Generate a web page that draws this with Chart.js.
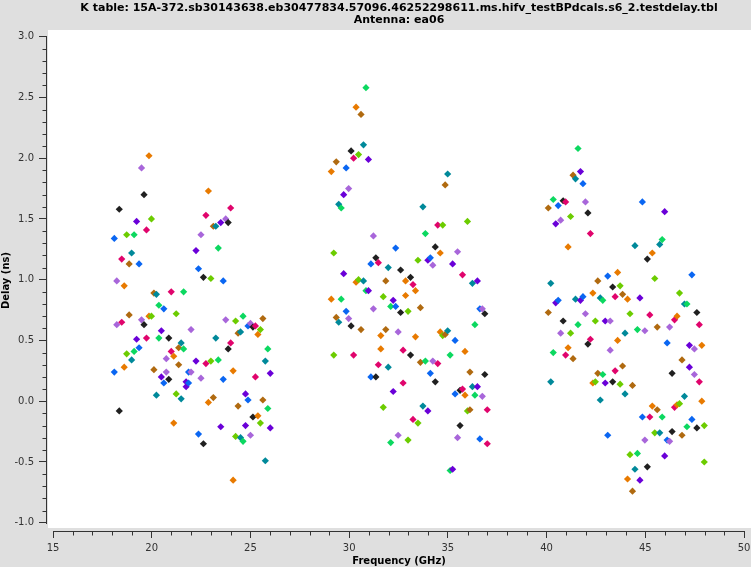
<!DOCTYPE html>
<html>
<head>
<meta charset="utf-8">
<script src="https://cdn.jsdelivr.net/npm/chart.js@4.4.0/dist/chart.umd.min.js"></script>
<style>
  html, body { margin: 0; padding: 0; background: #dfdfdf; }
  canvas { display: block; }
</style>
</head>
<body>
<canvas id="chart" width="751" height="567"></canvas>
<script>
// ---------------- text ----------------
const titleLines = [
  'K table: 15A-372.sb30143638.eb30477834.57096.46252298611.ms.hifv_testBPdcals.s6_2.testdelay.tbl',
  'Antenna: ea06'
];
const xAxisTitle = 'Frequency (GHz)';
const yAxisTitle = 'Delay (ns)';
const xTickValues = [15, 20, 25, 30, 35, 40, 45, 50];
const yTickValues = [-1.0, -0.5, 0.0, 0.5, 1.0, 1.5, 2.0, 2.5, 3.0];

// colour per spectral window (spw % 10)
const spwPalette = ['#0a66f2', '#a866da', '#202020', '#e0046c', '#e87a00',
                    '#6ccc00', '#b06a10', '#00899a', '#0cd860', '#6a00d8'];

// ---------------- K band ----------------
const kFreq = [18.105, 18.230, 18.356, 18.481, 18.607, 18.732, 18.857, 18.983, 19.108, 19.234,
  19.359, 19.484, 19.610, 19.735, 19.861, 19.986, 20.111, 20.237, 20.362, 20.488,
  20.613, 20.738, 20.864, 20.989, 21.115, 21.240, 21.365, 21.491, 21.616, 21.742,
  21.867, 21.992,
  22.243, 22.369, 22.494, 22.619, 22.745, 22.870, 22.996, 23.121, 23.246, 23.372,
  23.497, 23.623, 23.748, 23.873, 23.999, 24.124, 24.250, 24.375, 24.500, 24.626,
  24.751, 24.877, 25.002, 25.127, 25.253, 25.378, 25.504, 25.629, 25.754, 25.880, 26.005];
const kSpw = [0, 1, 2, 3, 4, 5, 6, 7, 8, 9, 10, 11, 12, 13, 14, 15, 16, 17, 18, 19,
  20, 21, 22, 23, 24, 25, 26, 27, 28, 29, 30, 31,
  39, 40, 41, 42, 43, 44, 45, 46, 47, 48, 49, 50, 51, 52, 53, 54, 55, 56, 57, 58,
  59, 60, 61, 62, 63, 64, 65, 66, 67, 68, 69];
const kDelayPol1 = [1.34, 0.99, 1.58, 1.17, 0.95, 1.37, 1.13, 1.22, 1.37, 1.48,
  1.13, 1.92, 1.70, 1.41, 2.02, 1.50, 0.89, 0.88, 0.79, 0.58,
  0.76, 0.35, 0.52, 0.90, 0.37, 0.72, 0.44, 0.48, 0.90, 0.16,
  0.24, 0.59,
  1.24, 1.09, 1.37, 1.02, 1.53, 1.73, 1.01, 1.44, 1.44, 1.26,
  1.47, 0.99, 1.50, 1.47, 1.59, 0.25, 0.66, 0.56, 0.57, 0.70,
  0.06, 0.62, 0.64, 0.61, 0.62, 0.55, 0.59, 0.68, 0.33, 0.43, 0.23];
const kDelayPol2 = [0.24, 0.63, -0.08, 0.65, 0.28, 0.39, 0.71, 0.34, 0.41, 0.51,
  0.44, 0.67, 0.63, 0.52, 0.70, 0.70, 0.26, 0.05, 0.52, 0.20,
  0.15, 0.24, 0.18, 0.41, -0.18, 0.06, 0.30, 0.02, 0.43, 0.12,
  0.15, 0.24,
  0.33, -0.27, 0.19, -0.35, 0.31, -0.01, 0.33, 0.03, 0.52, 0.34,
  -0.21, 0.18, 0.67, 0.43, 0.48, -0.65, -0.29, -0.04, -0.30, -0.33,
  -0.20, 0.01, -0.28, -0.13, 0.20, -0.12, -0.18, 0.01, -0.49, -0.06, -0.22];

// ---------------- Ka band ----------------
const kaFreq = [29.096, 29.221, 29.347, 29.472, 29.598, 29.723, 29.848, 29.974, 30.099, 30.225,
  30.350, 30.475, 30.601, 30.726, 30.852, 30.977, 31.102, 31.228, 31.353, 31.479,
  31.604, 31.729, 31.855, 31.980, 32.106, 32.231, 32.356, 32.482, 32.607, 32.733,
  32.858, 32.983, 33.109, 33.234, 33.360, 33.485, 33.610, 33.736, 33.861, 33.987,
  34.112, 34.237, 34.363, 34.488, 34.614, 34.739, 34.864, 34.990, 35.115, 35.241,
  35.366, 35.491, 35.617, 35.742, 35.868, 35.993, 36.118, 36.244, 36.369, 36.495,
  36.620, 36.745, 36.871, 36.996];
const kaSpw = [74, 75, 76, 77, 78, 79, 80, 81, 82, 83, 84, 85, 86, 87, 88, 89, 90, 91, 92, 93,
  94, 95, 96, 97, 98, 99, 100, 101, 102, 103, 104, 105,
  112, 113, 114, 115, 116, 117, 118, 119, 120, 121, 122, 123, 124, 125, 126, 127, 128, 129,
  130, 131, 132, 133, 134, 135, 136, 137, 138, 139, 140, 141, 142, 143];
const kaDelayPol1 = [1.89, 1.22, 1.97, 1.62, 1.59, 1.70, 1.92, 1.75, 2.06, 2.00,
  2.42, 2.03, 2.36, 2.11, 2.58, 1.99, 1.13, 1.36, 1.18, 1.14,
  0.54, 0.86, 0.99, 1.10, 0.78, 0.83, 1.26, 0.57, 1.08, 0.42,
  0.99, 0.74,
  1.02, 0.96, 0.91, 1.16, 0.77, 1.60, 1.38, 1.16, 1.18, 1.12,
  1.27, 1.45, 1.22, 1.45, 1.78, 1.87, 0.38, 1.13, 0.50, 1.23,
  0.09, 1.04, 0.41, 1.48, 0.24, 0.97, 0.63, 0.99, 0.76, 0.76,
  0.72, -0.07];
const kaDelayPol2 = [0.84, 0.38, 0.69, 0.65, 0.84, 1.05, 0.74, 0.68, 0.62, 0.38,
  0.98, 1.00, 0.59, 0.99, 0.91, 0.91, 0.20, 0.76, 0.20, 0.30,
  0.43, -0.05, 0.59, 0.28, -0.34, 0.08, 0.78, -0.28, 0.73, 0.15,
  0.87, -0.32,
  0.38, -0.15, 0.53, -0.18, 0.32, -0.04, 0.33, -0.08, 0.23, 0.33,
  0.16, 0.31, 0.57, 0.54, 0.55, 0.58, -0.57, -0.56, 0.06, -0.30,
  -0.20, 0.10, 0.05, -0.08, -0.07, 0.12, 0.05, 0.12, -0.31, 0.04,
  0.22, -0.35];

// ---------------- Q band ----------------
const qFreq = [40.087, 40.212, 40.338, 40.463, 40.589, 40.714, 40.839, 40.965, 41.090, 41.216,
  41.341, 41.466, 41.592, 41.717, 41.843, 41.968, 42.093, 42.219, 42.344, 42.470,
  42.595, 42.720, 42.846, 42.971, 43.097, 43.222, 43.347, 43.473, 43.598, 43.724,
  43.849, 43.974, 44.100, 44.225, 44.351, 44.476, 44.601, 44.727, 44.852, 44.978,
  45.103, 45.228, 45.354, 45.479, 45.605, 45.730, 45.855, 45.981, 46.106, 46.232,
  46.357, 46.482, 46.608, 46.733, 46.859, 46.984, 47.109, 47.235, 47.360, 47.486,
  47.611, 47.736, 47.862, 47.987];
const qSpw = [146, 147, 148, 149, 150, 151, 152, 153, 154, 155, 156, 157, 158, 159, 160, 161,
  162, 163, 164, 165, 166, 167, 168, 169, 170, 171, 172, 173, 174, 175, 176, 177,
  184, 185, 186, 187, 188, 189, 190, 191, 192, 193, 194, 195, 196, 197, 198, 199,
  200, 201, 202, 203, 204, 205, 206, 207, 208, 209, 210, 211, 212, 213, 214, 215];
const qDelayPol1 = [1.59, 0.97, 1.66, 1.46, 1.61, 1.49, 1.65, 1.64, 1.27, 1.52,
  1.86, 1.83, 2.08, 1.89, 1.79, 1.64, 1.55, 1.38, 0.89, 0.66,
  0.99, 0.85, 0.83, 0.66, 1.03, 0.66, 0.94, 0.86, 1.06, 0.95,
  0.88, 0.56,
  0.84, 0.72, 0.13, 1.28, 0.59, 0.85, 1.64, 0.58, 1.17, 0.71,
  1.22, 1.01, 0.61, 1.29, 1.33, 1.56, 0.48, 0.61, 0.23, 0.67,
  0.70, 0.89, 0.34, 0.80, 0.80, 0.46, 1.04, 0.43, 0.73, 0.63,
  0.46, -0.20];
const qDelayPol2 = [0.73, 0.16, 0.40, 0.81, 0.83, 0.56, 0.66, 0.38, 0.44, 0.56,
  0.35, 0.84, 0.63, 0.83, 0.86, 0.72, 0.47, 0.51, 0.15, 0.16,
  0.23, 0.01, 0.22, 0.15, -0.28, 0.42, 0.16, 0.25, 0.50, 0.14,
  0.29, 0.06,
  -0.64, -0.44, -0.74, -0.56, -0.43, -0.65, -0.13, -0.32, -0.54, -0.13,
  -0.04, -0.26, -0.07, -0.26, -0.13, -0.45, -0.32, -0.33, -0.25, -0.05,
  -0.03, -0.02, -0.28, 0.04, -0.21, 0.28, -0.15, 0.22, -0.22, 0.16,
  0.00, -0.50];

// ---------------- build datasets ----------------
function bandPoints(freq, spw, pol1, pol2) {
  const pts = [];
  for (let i = 0; i < freq.length; i++) {
    pts.push({ x: freq[i], y: pol1[i], spw: spw[i] });
    pts.push({ x: freq[i], y: pol2[i], spw: spw[i] });
  }
  return pts;
}
function bandDataset(label, pts) {
  return {
    label: label,
    data: pts,
    pointStyle: 'rectRot',
    pointRadius: 3.6,
    pointHoverRadius: 3.6,
    pointBorderWidth: 0,
    pointBackgroundColor: pts.map(p => spwPalette[p.spw % 10]),
    pointBorderColor: pts.map(p => spwPalette[p.spw % 10])
  };
}

const titleFont = { family: "'DejaVu Sans', sans-serif", size: 11, weight: 'bold', lineHeight: '12px' };
const axisTitleFont = { family: "'DejaVu Sans', sans-serif", size: 10, weight: 'bold', lineHeight: '12px' };
const tickFont = { family: "'DejaVu Sans', sans-serif", size: 10 };

function noScalePadding(s) {
  s.paddingLeft = 0; s.paddingRight = 0; s.paddingTop = 0; s.paddingBottom = 0;
}

const frame = {
  id: 'frame',
  beforeDraw(chart) {
    const { ctx, scales: { x, y } } = chart;
    ctx.save();
    ctx.fillStyle = '#dfdfdf';
    ctx.fillRect(0, 0, chart.width, chart.height);
    const left = Math.round(x.getPixelForValue(xTickValues[0])) - 5;
    const top = chart.chartArea.top;
    const bottom = Math.round(y.getPixelForValue(yTickValues[0])) + 5;
    ctx.fillStyle = '#ffffff';
    ctx.fillRect(left, top, chart.width - left, bottom - top);
    ctx.restore();
  },
  afterDraw(chart) {
    const { ctx, scales: { x, y }, chartArea } = chart;
    ctx.save();
    ctx.strokeStyle = '#333333';
    ctx.lineWidth = 1;
    ctx.beginPath();
    // y backbone
    const yx = chartArea.left - 0.5;
    ctx.moveTo(yx, Math.round(y.getPixelForValue(3)));
    ctx.lineTo(yx, Math.round(y.getPixelForValue(-1)) + 1);
    // x backbone
    const xy = chartArea.bottom + 0.5;
    ctx.moveTo(Math.round(x.getPixelForValue(15)), xy);
    ctx.lineTo(Math.round(x.getPixelForValue(50)) + 1, xy);
    // minor ticks
    for (let i = -10; i <= 30; i++) {
      if (i % 5 === 0) continue;
      const py = Math.round(y.getPixelForValue(i / 10)) + 0.5;
      ctx.moveTo(yx, py); ctx.lineTo(yx - 4, py);
    }
    for (let v = 15; v <= 50; v++) {
      if (v % 5 === 0) continue;
      const px = Math.round(x.getPixelForValue(v)) + 0.5;
      ctx.moveTo(px, xy); ctx.lineTo(px, xy + 4);
    }
    ctx.stroke();
    ctx.restore();
  }
};

new Chart(document.getElementById('chart'), {
  type: 'scatter',
  data: {
    datasets: [
      bandDataset('K', bandPoints(kFreq, kSpw, kDelayPol1, kDelayPol2)),
      bandDataset('Ka', bandPoints(kaFreq, kaSpw, kaDelayPol1, kaDelayPol2)),
      bandDataset('Q', bandPoints(qFreq, qSpw, qDelayPol1, qDelayPol2))
    ]
  },
  options: {
    responsive: false,
    devicePixelRatio: 1,
    animation: false,
    events: [],
    layout: { padding: 0, autoPadding: false },
    plugins: {
      legend: { display: false },
      tooltip: { enabled: false },
      title: {
        display: true,
        fullSize: false,
        text: titleLines,
        color: '#000000',
        font: titleFont,
        padding: { top: 2, bottom: 4 }
      }
    },
    scales: {
      x: {
        type: 'linear',
        min: 14.696,
        max: 50.354,
        afterBuildTicks: s => { s.ticks = xTickValues.map(v => ({ value: v })); },
        afterFit: s => { s.height = 36; noScalePadding(s); },
        grid: { display: true, drawOnChartArea: false, drawTicks: true, tickLength: 7, tickColor: '#333333', tickWidth: 1 },
        border: { display: false },
        ticks: { autoSkip: false, maxRotation: 0, padding: 4, color: '#333333', font: tickFont,
                 callback: v => String(v) },
        title: { display: true, text: xAxisTitle, color: '#000000', font: axisTitleFont, padding: { top: 0, bottom: 0 } }
      },
      y: {
        type: 'linear',
        min: -1.068,
        max: 3.055,
        afterBuildTicks: s => { s.ticks = yTickValues.map(v => ({ value: v })); },
        afterFit: s => { s.width = 47; noScalePadding(s); },
        grid: { display: true, drawOnChartArea: false, drawTicks: true, tickLength: 8, tickColor: '#333333', tickWidth: 1 },
        border: { display: false },
        ticks: { autoSkip: false, padding: 5, color: '#333333', font: tickFont,
                 callback: v => Number(v).toFixed(1) },
        title: { display: true, text: yAxisTitle, color: '#000000', font: axisTitleFont, padding: { top: 0, bottom: 0 } }
      }
    }
  },
  plugins: [frame]
});
</script>
</body>
</html>
